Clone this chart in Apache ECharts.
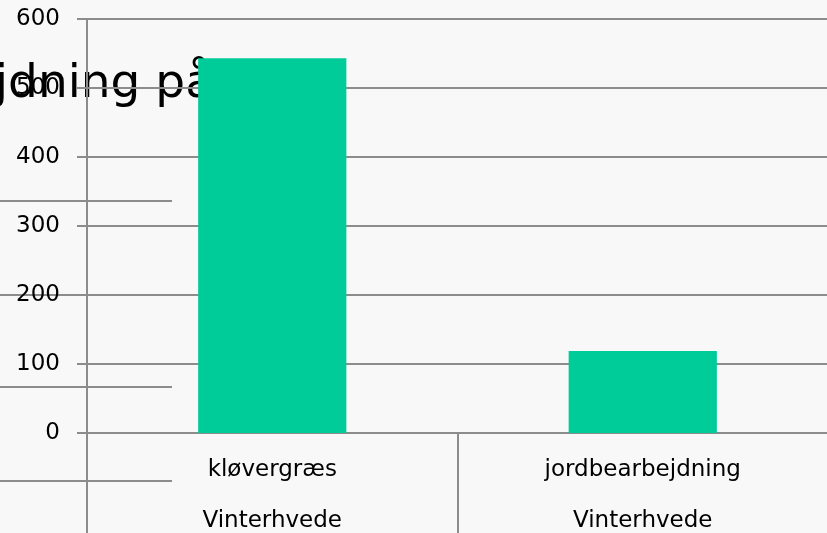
<!DOCTYPE html>
<html><head><meta charset="utf-8">
<script src="https://cdn.jsdelivr.net/npm/echarts@6/dist/echarts.min.js"></script>
<style>html,body{margin:0;padding:0;background:#f8f8f8}#c{width:827px;height:533px}</style>
</head><body><div id="c"></div>
<script>
const categories = ['kløvergræs', 'jordbearbejdning'];
const groups = ['Vinterhvede', 'Vinterhvede'];
const values = [543, 119];
const yTicks = [0, 100, 200, 300, 400, 500, 600];
const titleText = 'Jordbearbejdning på';

const chart = echarts.init(document.getElementById('c'), null, {renderer: 'canvas'});
const lineCol = '#8c8c8c';
const font = 'DejaVu Sans';
chart.setOption({
  backgroundColor: '#f8f8f8',
  animation: false,
  textStyle: {fontFamily: font},
  graphic: [
    {type: 'text', x: 214, y: 61, z: -1, style: {text: titleText, align: 'right', fill: '#000', font: '47px "DejaVu Sans"'}},
    {type: 'line', shape: {x1: 0, y1: 201, x2: 172, y2: 201}, style: {stroke: lineCol, lineWidth: 2}},
    {type: 'line', shape: {x1: 0, y1: 295, x2: 172, y2: 295}, style: {stroke: lineCol, lineWidth: 2}},
    {type: 'line', shape: {x1: 0, y1: 387, x2: 172, y2: 387}, style: {stroke: lineCol, lineWidth: 2}},
    {type: 'line', shape: {x1: 0, y1: 481, x2: 172, y2: 481}, style: {stroke: lineCol, lineWidth: 2}}
  ],
  grid: {left: 87, right: -1, top: 19, bottom: 100, containLabel: false, outerBoundsMode: 'none'},
  xAxis: {
    type: 'category',
    data: categories.map((c, i) => c + '\n' + groups[i]),
    axisLine: {show: true, lineStyle: {color: lineCol, width: 2}},
    axisTick: {show: true, alignWithLabel: false, length: 100, lineStyle: {color: lineCol, width: 2}},
    axisLabel: {color: '#000', fontSize: 23, fontFamily: font, lineHeight: 51, margin: 12},
    splitLine: {show: false}
  },
  yAxis: {
    type: 'value', min: 0, max: yTicks[yTicks.length - 1], interval: 100,
    axisLine: {show: true, lineStyle: {color: lineCol, width: 2}},
    axisTick: {show: true, length: 10, lineStyle: {color: lineCol, width: 2}},
    axisLabel: {color: '#000', fontSize: 23, fontFamily: font, margin: 27},
    splitLine: {show: true, lineStyle: {color: lineCol, width: 2}}
  },
  series: [{
    type: 'bar', data: values, barWidth: '40%', z: 5,
    itemStyle: {color: '#00cc99'}
  }]
});
</script></body></html>
